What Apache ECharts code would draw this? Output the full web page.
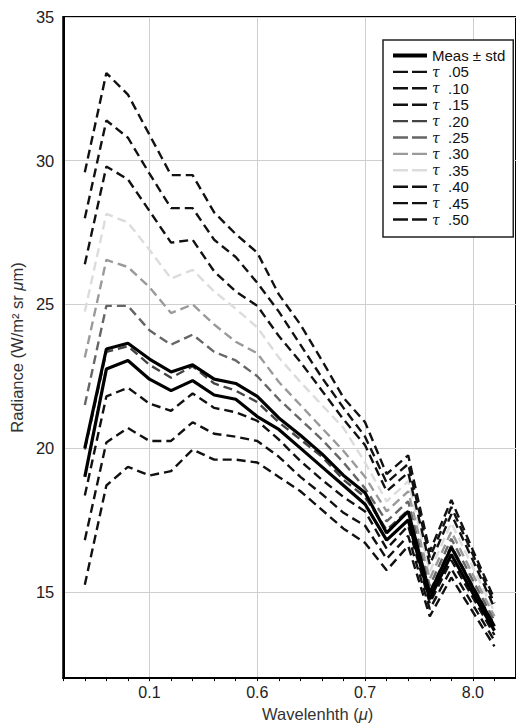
<!DOCTYPE html>
<html>
<head>
<meta charset="utf-8">
<script src="https://cdn.jsdelivr.net/npm/echarts@6/dist/echarts.min.js"></script>
<style>
  html, body { margin: 0; padding: 0; background: #fff; }
  #chart { width: 516px; height: 727px; }
</style>
</head>
<body>
<div id="chart"></div>
<script>
// sample index along the wavelength axis (1..20), labels shown at 4, 9, 14, 19
var xIndex = [1, 2, 3, 4, 5, 6, 7, 8, 9, 10, 11, 12, 13, 14, 15, 16, 17, 18, 19, 20];
var xTickLabels = { 4: '0.1', 9: '0.6', 14: '0.7', 19: '8.0' };
var yTickValues = [15, 20, 25, 30, 35];

// measurement ± std
var measHi = [20.0, 23.45, 23.65, 23.1, 22.65, 22.9, 22.4, 22.25, 21.8, 21.05, 20.45, 19.8, 19.05, 18.45, 17.05, 17.8, 14.95, 16.55, 15.15, 13.8];
var measLo = [19.0, 22.75, 23.05, 22.4, 22.0, 22.35, 21.85, 21.7, 21.1, 20.65, 20.0, 19.35, 18.7, 18.05, 16.8, 17.5, 14.75, 16.3, 14.95, 13.65];

// model runs for each optical depth
var tau05 = [15.25, 18.7, 19.35, 19.05, 19.2, 19.95, 19.6, 19.6, 19.5, 19.0, 18.5, 17.85, 17.2, 16.7, 15.75, 16.6, 14.15, 15.5, 14.3, 13.1];
var tau10 = [16.8, 20.2, 20.7, 20.25, 20.25, 20.9, 20.5, 20.4, 20.25, 19.7, 19.0, 18.4, 17.75, 17.3, 16.15, 16.95, 14.4, 15.8, 14.55, 13.3];
var tau15 = [18.35, 21.8, 22.1, 21.55, 21.3, 21.9, 21.4, 21.25, 20.95, 20.3, 19.55, 18.9, 18.3, 17.8, 16.5, 17.3, 14.6, 16.1, 14.8, 13.5];
var tau20 = [19.95, 23.35, 23.55, 22.9, 22.45, 22.85, 22.25, 22.0, 21.6, 20.9, 20.3, 19.7, 18.9, 18.3, 17.15, 17.85, 15.0, 16.6, 15.2, 13.85];
var tau25 = [21.5, 24.95, 24.95, 24.1, 23.6, 23.95, 23.35, 23.05, 22.5, 21.7, 21.0, 20.3, 19.5, 18.6, 17.45, 18.15, 15.2, 16.85, 15.4, 14.0];
var tau30 = [23.15, 26.55, 26.3, 25.6, 24.7, 25.0, 24.3, 23.7, 23.3, 22.3, 21.5, 20.7, 19.9, 19.0, 17.8, 18.5, 15.45, 17.1, 15.6, 14.15];
var tau35 = [24.75, 28.15, 27.85, 26.9, 25.9, 26.2, 25.45, 24.85, 24.2, 23.15, 22.3, 21.5, 20.7, 19.5, 18.15, 18.85, 15.7, 17.4, 15.85, 14.3];
var tau40 = [26.4, 29.8, 29.35, 28.25, 27.15, 27.25, 26.15, 25.45, 24.95, 23.9, 23.0, 22.0, 21.0, 20.1, 18.5, 19.15, 15.95, 17.7, 16.1, 14.45];
var tau45 = [28.0, 31.4, 30.8, 29.55, 28.35, 28.35, 27.25, 26.65, 25.75, 24.75, 23.6, 22.45, 21.4, 20.4, 18.8, 19.45, 16.2, 17.95, 16.3, 14.6];
var tau50 = [29.6, 33.05, 32.3, 30.9, 29.5, 29.5, 28.2, 27.45, 26.8, 25.35, 24.3, 23.05, 21.75, 20.9, 19.1, 19.75, 16.4, 18.2, 16.45, 14.75];

var tauNames = ['.05', '.10', '.15', '.20', '.25', '.30', '.35', '.40', '.45', '.50'];
var tauData = [tau05, tau10, tau15, tau20, tau25, tau30, tau35, tau40, tau45, tau50];
var tauColors = ['#111', '#111', '#111', '#444', '#666', '#9a9a9a', '#dcdcdc', '#111', '#111', '#111'];
var measName = 'Meas ± std';

function pairs(vals) {
  return vals.map(function (v, i) { return [xIndex[i], v]; });
}

var chart = echarts.init(document.getElementById('chart'), null, { renderer: 'svg' });

var series = [];
var legendData = [{ name: measName, lineStyle: { width: 4 } }];
tauData.forEach(function (vals, k) {
  var name = 'τ ' + tauNames[k];
  series.push({
    name: name,
    type: 'line',
    data: pairs(vals),
    symbol: 'none',
    lineStyle: { color: tauColors[k], width: 2.4, type: [9, 5] },
    itemStyle: { color: tauColors[k] },
    z: 2
  });
  legendData.push({ name: name, lineStyle: { type: [15, 4], width: 2.4 } });
});
[measHi, measLo].forEach(function (vals) {
  series.push({
    name: measName,
    type: 'line',
    data: pairs(vals),
    symbol: 'none',
    lineStyle: { color: '#000', width: 3.2 },
    itemStyle: { color: '#000' },
    z: 3
  });
});

chart.setOption({
  animation: false,
  textStyle: { fontFamily: 'Liberation Sans, Arial, sans-serif' },
  grid: {
    left: 61, top: 17, width: 458, height: 664,
    show: true, borderColor: '#000', borderWidth: 2, backgroundColor: '#fff'
  },
  legend: {
    data: legendData,
    orient: 'vertical',
    left: 383, top: 40,
    padding: [8, 8, 10, 8],
    itemWidth: 34, itemHeight: 12, itemGap: 1.4,
    itemStyle: { opacity: 0 },
    backgroundColor: '#fff',
    borderColor: '#222', borderWidth: 1.5, borderRadius: 0,
    formatter: function (name) {
      if (name.indexOf('τ') === 0) return '{t|τ}{n|  ' + name.slice(2) + '}';
      return '{n|' + name + '}';
    },
    textStyle: {
      color: '#111', fontSize: 15, lineHeight: 12,
      rich: {
        t: { fontFamily: 'DejaVu Serif, serif', fontStyle: 'italic', fontSize: 14, lineHeight: 12 },
        n: { fontSize: 15, lineHeight: 12, color: '#111' }
      }
    }
  },
  xAxis: {
    type: 'value',
    min: 0, max: 21,
    axisLine: { show: true, lineStyle: { color: '#000', width: 2 } },
    axisTick: {
      show: true, length: 3, lineStyle: { color: '#000' },
      customValues: [0, 1, 2, 3, 4, 5, 6, 7, 8, 9, 10, 11, 12, 13, 14, 15, 16, 17, 18, 19, 20, 21]
    },
    axisLabel: {
      customValues: [4, 9, 14, 19],
      color: '#222', fontSize: 16, margin: 6,
      formatter: function (v) { return xTickLabels[v] || ''; }
    },
    splitLine: {
      show: true,
      lineStyle: { color: ['transparent', 'transparent', 'transparent', 'transparent', '#cfcfcf'], width: 1 }
    },
    name: 'Wavelenhth ({i|μ})',
    nameLocation: 'middle',
    nameGap: 26,
    nameTextStyle: {
      color: '#333', fontSize: 16.5, padding: [0, 0, 0, 56],
      rich: { i: { fontStyle: 'italic', fontSize: 16.5, color: '#333' } }
    }
  },
  yAxis: {
    type: 'value',
    min: 12, max: 35,
    axisLine: { show: true, lineStyle: { color: '#000', width: 2 } },
    axisTick: { show: false, customValues: yTickValues },
    axisLabel: { customValues: yTickValues, color: '#222', fontSize: 16.5, margin: 9 },
    splitLine: { show: true, lineStyle: { color: '#cfcfcf', width: 1 } },
    name: 'Radiance (W/m² sr {i|μ}m)',
    nameLocation: 'middle',
    nameGap: 37,
    nameTextStyle: {
      color: '#333', fontSize: 16.5,
      rich: { i: { fontStyle: 'italic', fontSize: 16.5, color: '#333' } }
    }
  },
  series: series
});
</script>
</body>
</html>
